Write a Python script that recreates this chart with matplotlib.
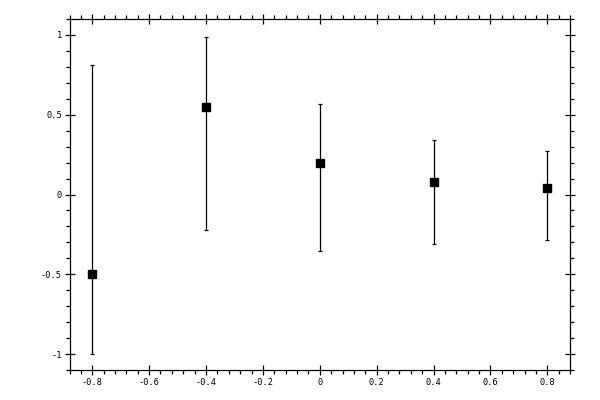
import matplotlib
matplotlib.use("Agg")
import matplotlib.pyplot as plt
import numpy as np
from matplotlib.ticker import MultipleLocator, FuncFormatter

x = [-0.8, -0.4, 0.0, 0.4, 0.8]
y = [-0.5, 0.55, 0.2, 0.08, 0.04]
y_low = [-1.0, -0.22, -0.355, -0.31, -0.285]
y_high = [0.81, 0.99, 0.565, 0.34, 0.27]

yerr = [np.array(y) - np.array(y_low), np.array(y_high) - np.array(y)]

fig = plt.figure(figsize=(6, 4), dpi=100)
ax = fig.add_axes([69.5 / 600, 30 / 400, (570 - 69.5) / 600, (370 - 19) / 400])

ax.errorbar(x, y, yerr=yerr, fmt='s', color='black', markersize=5.2,
            elinewidth=0.9, capsize=1.6, capthick=0.9, ecolor='black')

ax.set_xlim(-0.88, 0.88)
ax.set_ylim(-1.1, 1.1)

ax.xaxis.set_major_locator(MultipleLocator(0.2))
ax.xaxis.set_minor_locator(MultipleLocator(0.04))
ax.yaxis.set_major_locator(MultipleLocator(0.5))
ax.yaxis.set_minor_locator(MultipleLocator(0.1))

def fmt(v, pos):
    if abs(v) < 1e-9:
        return '0'
    s = ('%.1f' % v)
    if s.endswith('.0'):
        s = s[:-2]
    return s

ax.xaxis.set_major_formatter(FuncFormatter(fmt))
ax.yaxis.set_major_formatter(FuncFormatter(fmt))

ax.tick_params(which='major', direction='inout', length=7, width=0.9,
               top=True, right=True, labelsize=6.2, pad=2)
ax.tick_params(which='minor', direction='out', length=3, width=0.9,
               top=True, right=True)
for lab in ax.get_xticklabels() + ax.get_yticklabels():
    lab.set_family('DejaVu Sans Mono')
for sp in ax.spines.values():
    sp.set_linewidth(0.9)

fig.savefig('out.png', dpi=100)
